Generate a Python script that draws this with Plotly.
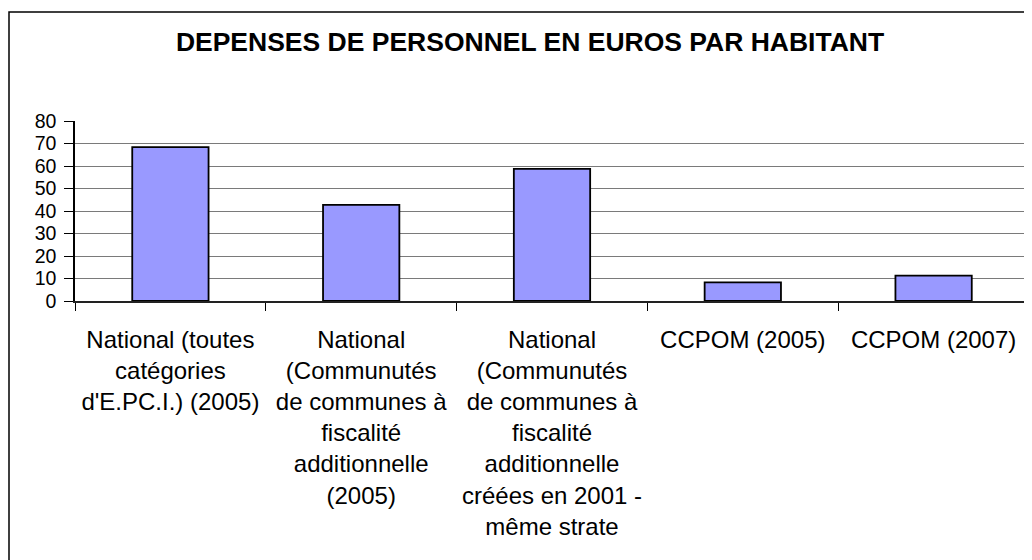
import plotly.graph_objects as go

categories = [
    "National (toutes<br>catégories<br>d'E.PC.I.) (2005)",
    "National<br>(Communutés<br>de communes à<br>fiscalité<br>additionnelle<br>(2005)",
    "National<br>(Communutés<br>de communes à<br>fiscalité<br>additionnelle<br>créées en 2001 -<br>même strate",
    "CCPOM (2005)",
    "CCPOM (2007)",
]
values = [68.4, 42.7, 58.7, 8.3, 11.3]
y_ticks = [0, 10, 20, 30, 40, 50, 60, 70, 80]

FONT = "Liberation Sans, Arial, sans-serif"

# page body has an 8px margin: figure is sized/offset to compensate
W, H = 1024, 552
OFF = 8

fig = go.Figure(
    go.Bar(
        x=categories,
        y=values,
        marker=dict(color="#9999FF", line=dict(color="#000000", width=1.8)),
        width=0.4,
    )
)

fig.update_layout(
    width=W,
    height=H,
    margin=dict(l=75 - OFF, r=W - (1029 - OFF), t=121 - OFF, b=H - (301 - OFF)),
    paper_bgcolor="white",
    plot_bgcolor="white",
    showlegend=False,
    font=dict(family=FONT, color="black"),
    title=dict(
        text="<b>DEPENSES DE PERSONNEL EN EUROS PAR HABITANT</b>",
        font=dict(family=FONT, size=26.5, color="black"),
        x=(530 - OFF) / W,
        xref="container",
        xanchor="center",
        y=1 - (42 - OFF) / H,
        yref="container",
        yanchor="middle",
    ),
    shapes=[
        dict(type="rect", xref="paper", yref="paper",
             x0=(9 - 75) / 954, x1=(1031 - 75) / 954,
             y0=-1.6, y1=(301 - 12) / 180,
             line=dict(color="black", width=1.5), fillcolor="rgba(0,0,0,0)",
             layer="below"),
        dict(type="line", xref="paper", yref="paper",
             x0=1, x1=1, y0=0, y1=1,
             line=dict(color="#808080", width=1.5)),
    ],
)

fig.update_xaxes(
    type="category",
    tickson="boundaries",
    ticks="outside",
    ticklen=8,
    tickcolor="black",
    tickwidth=1,
    showline=True,
    linecolor="#222222",
    linewidth=1.5,
    showgrid=False,
    tickfont=dict(family=FONT, size=24, color="black"),
    ticklabelstandoff=16,
    tickangle=0,
)

fig.update_yaxes(
    range=[0, 80],
    tickvals=y_ticks,
    ticktext=[str(v) for v in y_ticks],
    ticks="outside",
    ticklen=9,
    tickcolor="black",
    showline=True,
    linecolor="black",
    linewidth=1.5,
    showgrid=True,
    gridcolor="#7a7a7a",
    gridwidth=1.2,
    zeroline=False,
    tickfont=dict(family=FONT, size=19.5, color="black"),
    ticklabelstandoff=4,
)

fig.write_html("out.html")
